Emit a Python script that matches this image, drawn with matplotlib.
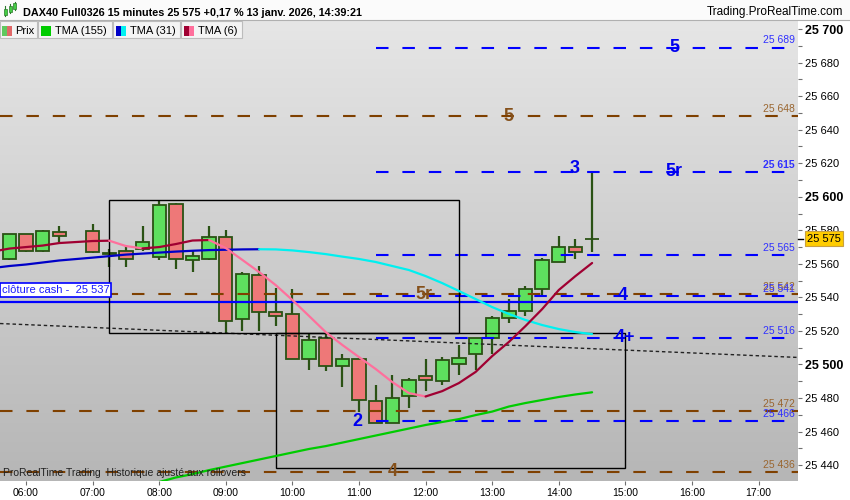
import numpy as np
import matplotlib
matplotlib.use("Agg")
import matplotlib.pyplot as plt
from matplotlib.colors import LinearSegmentedColormap
from matplotlib.patches import Rectangle
from matplotlib.transforms import blended_transform_factory

plt.rcParams["font.family"] = ["Liberation Sans", "DejaVu Sans"]
plt.rcParams["lines.scale_dashes"] = False

TITLE = "DAX40 Full0326 15 minutes 25 575 +0,17 % 13 janv. 2026, 14:39:21"
SITE = "Trading.ProRealTime.com"
FOOTER = "ProRealTime Trading  Historique ajusté aux rollovers"
LEGEND = ["Prix", "TMA (155)", "TMA (31)", "TMA (6)"]

# 15 min candles (time in hours, 06:45 bar missing)
CANDLE_T = [5.75, 6.0, 6.25, 6.5, 7.0, 7.25, 7.5, 7.75, 8.0, 8.25, 8.5, 8.75,
            9.0, 9.25, 9.5, 9.75, 10.0, 10.25, 10.5, 10.75, 11.0, 11.25, 11.5,
            11.75, 12.0, 12.25, 12.5, 12.75, 13.0, 13.25, 13.5, 13.75, 14.0,
            14.25, 14.5]
OPEN = [25563.0, 25577.5, 25567.5, 25579.0, 25579.5, 25566.0, 25567.5, 25569.0,
        25564.0, 25595.5, 25562.5, 25563.0, 25576.0, 25527.0, 25553.5, 25531.5,
        25530.0, 25503.5, 25516.0, 25499.0, 25503.5, 25478.5, 25465.0, 25481.0,
        25493.0, 25490.0, 25500.5, 25506.5, 25515.5, 25527.5, 25532.0, 25545.0,
        25561.0, 25570.0, 25575.0]
HIGH = [25578.0, 25578.0, 25580.0, 25582.5, 25584.0, 25569.0, 25571.0, 25582.5,
        25598.0, 25596.0, 25567.5, 25582.5, 25580.0, 25555.0, 25558.5, 25545.5,
        25545.0, 25519.0, 25519.0, 25506.5, 25504.0, 25488.0, 25493.5, 25492.0,
        25503.5, 25504.5, 25511.5, 25515.5, 25529.0, 25539.0, 25546.5, 25563.5,
        25576.5, 25575.0, 25615.0]
LOW = [25562.5, 25567.0, 25567.0, 25573.0, 25566.5, 25558.0, 25558.0, 25567.5,
       25562.0, 25557.0, 25555.0, 25562.5, 25519.0, 25520.0, 25520.0, 25523.0,
       25503.0, 25496.5, 25496.0, 25486.5, 25471.5, 25465.0, 25465.0, 25474.0,
       25484.0, 25487.5, 25493.5, 25496.5, 25506.5, 25525.0, 25529.0, 25540.0,
       25561.0, 25563.0, 25567.0]
CLOSE = [25577.5, 25567.5, 25579.5, 25576.5, 25567.0, 25566.5, 25563.0, 25573.0,
         25595.0, 25563.0, 25564.5, 25576.0, 25526.0, 25554.0, 25531.5, 25529.0,
         25503.5, 25514.5, 25499.0, 25503.5, 25479.0, 25465.0, 25480.0, 25490.5,
         25490.5, 25502.5, 25504.0, 25515.5, 25527.5, 25532.0, 25545.0, 25562.5,
         25570.0, 25567.0, 25575.0]

# moving averages
MA_T = [5.5] + CANDLE_T
TMA6 = [25567.3, 25569.1, 25570.0, 25570.9, 25572.4, 25573.6, 25573.8, 25570.6,
        25569.2, 25570.0, 25571.8, 25573.9, 25574.2, 25569.4, 25562.3, 25555.1,
        25547.3, 25538.4, 25528.9, 25519.3, 25511.6, 25504.4, 25497.3, 25489.5,
        25482.9, 25480.9, 25484.1, 25488.9, 25495.5, 25505.0, 25513.4, 25522.9,
        25533.0, 25544.4, 25552.7, 25560.5]
TMA31 = [25557.5, 25558.7, 25559.6, 25560.8, 25562.0, 25563.7, 25564.6, 25565.5,
         25566.1, 25566.7, 25567.3, 25567.8, 25568.2, 25568.4, 25568.6, 25568.7,
         25568.6, 25568.0, 25567.0, 25565.8, 25564.3, 25562.9, 25561.1, 25558.7,
         25556.3, 25552.7, 25548.5, 25543.8, 25539.0, 25534.2, 25530.1, 25526.5,
         25523.5, 25521.1, 25519.3, 25518.1]
TMA155_T = CANDLE_T[8:]
TMA155 = [25429.9, 25432.6, 25434.6, 25437.0, 25439.1, 25441.2, 25443.3, 25445.4,
          25447.5, 25449.6, 25451.3, 25453.4, 25455.5, 25457.6, 25459.7, 25461.8,
          25463.9, 25465.7, 25467.4, 25469.8, 25471.9, 25474.9, 25477.0, 25478.8,
          25480.6, 25482.1, 25483.4]

# horizontal levels
BLUE_LEVELS = [25689, 25615, 25565, 25541, 25516, 25466]
BROWN_LEVELS = [25648, 25542, 25472, 25436]
BLUE_START = 11.25
CASH_CLOSE = 25537
LAST_PRICE = 25575
DOTTED_T = [5.61, 17.58]
DOTTED_P = [25524.4, 25504.2]

# zone boxes
BOX_T0 = [7.25, 9.75]
BOX_T1 = [12.5, 15.0]
BOX_P0 = [25518.5, 25438.0]
BOX_P1 = [25598.0, 25518.5]

# big labels
MARK_TEXT = ["5", "5", "3", "5r", "5r", "4", "4+", "2", "4"]
MARK_T = [15.73, 13.24, 14.24, 15.73, 11.98, 14.96, 15.0, 10.98, 11.5]
MARK_P = [25689, 25648, 25617, 25615, 25542, 25541, 25516, 25466, 25436]
MARK_KIND = ["b", "r", "b", "b", "r", "b", "b", "b", "r"]

HOURS = [6, 7, 8, 9, 10, 11, 12, 13, 14, 15, 16, 17]
HOUR_LABELS = ["06:00", "07:00", "08:00", "09:00", "10:00", "11:00", "12:00",
               "13:00", "14:00", "15:00", "16:00", "17:00"]
PRICE_TICKS = [25440, 25460, 25480, 25500, 25520, 25540, 25560, 25580, 25600,
               25620, 25640, 25660, 25680, 25700]

BLUE = "#0000ff"
BROWN = "#7f4000"
BROWN_TXT = "#9a6630"
GREEN_BODY = "#5ee05e"
RED_BODY = "#ee7878"
EDGE = "#2a5214"

W, H = 850, 500


def fx(px):
    return px / W


def fy(py):
    return 1 - py / H


def fmt(p):
    return f"{p // 1000} {p % 1000:03d}"


def two_tone(ax, t, v, up, down, lw):
    t = np.asarray(t)
    v = np.asarray(v)
    rising = np.diff(v) >= 0
    start = 0
    for i in range(1, len(rising) + 1):
        if i == len(rising) or rising[i] != rising[start]:
            ax.plot(t[start:i + 1], v[start:i + 1], color=up if rising[start] else down,
                    lw=lw, solid_capstyle="round", zorder=4)
            start = i


fig = plt.figure(figsize=(8.5, 5), dpi=100, facecolor="white")
ax = fig.add_axes([0, fy(481), fx(798), (481 - 20) / H])
x0, x1 = 5.6096, 17.5916
y0, y1 = 25430.5, 25705.4
ax.set_xlim(x0, x1)
ax.set_ylim(y0, y1)

cmap = LinearSegmentedColormap.from_list("bg", ["#b6b6b6", "#e6e6e6"])
ax.imshow(np.linspace(0, 1, 256).reshape(-1, 1), extent=[x0, x1, y0, y1],
          origin="lower", aspect="auto", cmap=cmap, zorder=0)

# candles
o, c = np.array(OPEN), np.array(CLOSE)
ax.vlines(CANDLE_T, LOW, HIGH, color=EDGE, lw=1.6, zorder=2)
colors = [GREEN_BODY if cc >= oo else RED_BODY for oo, cc in zip(o, c)]
ax.bar(CANDLE_T, np.abs(c - o), bottom=np.minimum(o, c), width=0.2,
       color=colors, edgecolor=EDGE, linewidth=1.3, zorder=2.5)

# levels
for p in BROWN_LEVELS:
    ax.plot([x0, x1], [p, p], color=BROWN, lw=1.5, dashes=(9, 10), zorder=3)
for p in BLUE_LEVELS:
    ax.plot([BLUE_START, x1], [p, p], color=BLUE, lw=1.5, dashes=(9, 10), zorder=3)
ax.axhline(CASH_CLOSE, color=BLUE, lw=1.6, zorder=3)
ax.plot(DOTTED_T, DOTTED_P, color="#222222", lw=1.0, dashes=(2.5, 2), zorder=3)

for t0, t1, p0, p1 in zip(BOX_T0, BOX_T1, BOX_P0, BOX_P1):
    ax.add_patch(Rectangle((t0, p0), t1 - t0, p1 - p0, fill=False,
                           edgecolor="black", lw=1.0, zorder=3))

two_tone(ax, TMA155_T, TMA155, "#00cc00", "#00cc00", 1.6)
two_tone(ax, MA_T, TMA31, "#0000c8", "#00f0f0", 1.6)
two_tone(ax, MA_T, TMA6, "#a00032", "#ff6f9c", 1.6)

# level price labels
tr = blended_transform_factory(ax.transAxes, ax.transData)
for p in BROWN_LEVELS:
    ax.text(795 / 798, p + 2.4, fmt(p), transform=tr, ha="right", va="baseline",
            fontsize=7.5, color=BROWN_TXT, zorder=5)
for p in BLUE_LEVELS:
    ax.text(795 / 798, p + 2.4, fmt(p), transform=tr, ha="right", va="baseline",
            fontsize=7.5, color="#3030ff", zorder=5,
            fontweight="bold" if p == 25615 else "normal")

for s, t, p, k in zip(MARK_TEXT, MARK_T, MARK_P, MARK_KIND):
    ax.text(t, p, s, ha="center", va="center", fontsize=13, fontweight="bold",
            color="#0000ee" if k == "b" else "#85501a", zorder=6)

ax.text(0.002, CASH_CLOSE + 7.3, "clôture cash -  " + fmt(CASH_CLOSE), transform=tr,
        ha="left", va="center", fontsize=8, color="#1a1aff", zorder=6,
        bbox=dict(boxstyle="square,pad=0.18", fc="white", ec=BLUE, lw=1.2))
ax.text(3 / 798, 25432, FOOTER, transform=tr, ha="left", va="bottom",
        fontsize=7.5, color="#202020", zorder=6)

# axes styling
for sp in ax.spines.values():
    sp.set_visible(False)
ax.yaxis.tick_right()
ax.set_yticks(PRICE_TICKS)
ax.set_yticklabels([fmt(p) for p in PRICE_TICKS])
ax.set_yticks([p + 10 for p in PRICE_TICKS[:-1]], minor=True)
ax.tick_params(axis="y", which="both", length=3, width=0.8, color="#707070",
               pad=2, labelsize=8)
for lab, p in zip(ax.get_yticklabels(), PRICE_TICKS):
    if p % 100 == 0:
        lab.set_fontweight("bold")
        lab.set_fontsize(9)
ax.set_xticks(HOURS)
ax.set_xticklabels(HOUR_LABELS)
ax.tick_params(axis="x", length=3, width=0.8, color="#707070", pad=2, labelsize=7.5)

ax.plot([1.0, 1.006], [LAST_PRICE, LAST_PRICE], transform=tr, color="black",
        lw=1, clip_on=False, zorder=9)
ax.text(807 / 798, LAST_PRICE, fmt(LAST_PRICE), transform=tr, ha="left",
        va="center", fontsize=8, color="black", zorder=10, clip_on=False,
        bbox=dict(boxstyle="square,pad=0.2", fc="#ffcc00", ec="#c8a040", lw=0.8))

# header bar
fig.add_artist(Rectangle((0, fy(20)), 1, 20 / H, transform=fig.transFigure,
                         fc="#fbfbfb", ec="none", zorder=1))
fig.add_artist(plt.Line2D([0, 1], [fy(20), fy(20)], transform=fig.transFigure,
                          color="#b0b0b0", lw=0.8, zorder=2))
for cx, yb, yt, wb, wt in [(5, 15, 9, 16, 6), (10, 12, 6, 13, 4), (15, 9, 3, 10, 2)]:
    fig.add_artist(plt.Line2D([fx(cx), fx(cx)], [fy(wb), fy(wt)], transform=fig.transFigure,
                              color="#2a7a2a", lw=0.8, zorder=3))
    fig.add_artist(Rectangle((fx(cx - 1.5), fy(yb)), 3 / W, (yb - yt) / H,
                             transform=fig.transFigure, fc="#44cc44", ec="#2a7a2a",
                             lw=0.5, zorder=3))
fig.text(fx(23), fy(12.5), TITLE, ha="left", va="center", fontsize=7.8,
         fontweight="bold", color="black")
fig.text(fx(843), fy(12.5), SITE, ha="right", va="center", fontsize=8.5,
         color="black")

# legend boxes
boxes = [(0, 37), (38, 112), (113, 180), (181, 242)]
text_x = [15.5, 55, 130, 198]
swatches = [[("#5ec85e", 2, 7), ("#e06868", 7, 12)],
            [("#00cc00", 41, 51)],
            [("#0000c8", 116, 121), ("#00f0f0", 121, 126)],
            [("#a00032", 184, 189), ("#ff6f9c", 189, 194)]]
for (bx0, bx1), tx, sw, label in zip(boxes, text_x, swatches, LEGEND):
    fig.add_artist(Rectangle((fx(bx0), fy(38)), (bx1 - bx0) / W, 17 / H,
                             transform=fig.transFigure, fc="#f4f4f4",
                             ec="#bcbcbc", lw=0.8, zorder=2))
    for col, sx0, sx1 in sw:
        fig.add_artist(Rectangle((fx(sx0), fy(36)), (sx1 - sx0) / W, 10 / H,
                                 transform=fig.transFigure, fc=col, ec="none", zorder=3))
    fig.text(fx(tx), fy(30.5), label, ha="left", va="center", fontsize=8,
             color="black", zorder=4)

fig.savefig("out.png", dpi=100)
